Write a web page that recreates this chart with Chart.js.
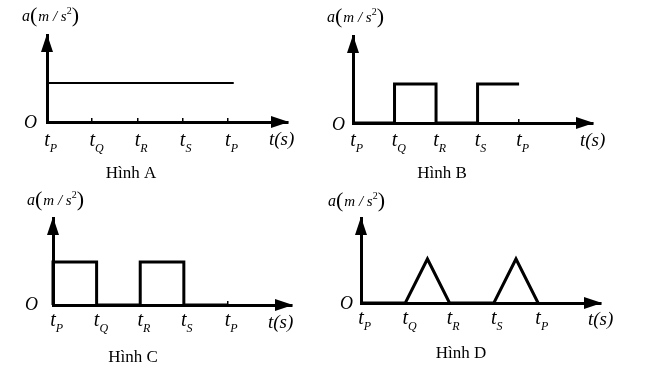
<!DOCTYPE html>
<html>
<head>
<meta charset="utf-8">
<script src="https://cdn.jsdelivr.net/npm/chart.js@4.4.1/dist/chart.umd.min.js"></script>
<style>
  html, body { margin: 0; padding: 0; background: #fff; }
  #wrap { position: relative; width: 647px; height: 379px; }
  #wrap canvas { position: absolute; left: 0; top: 0; }
</style>
</head>
<body>
<div id="wrap">
  <canvas id="chartA" width="647" height="379"></canvas>
  <canvas id="chartB" width="647" height="379"></canvas>
  <canvas id="chartC" width="647" height="379"></canvas>
  <canvas id="chartD" width="647" height="379"></canvas>
</div>
<script>
// tick positions on the time axis and their subscripts
const tickTimes = [0, 1, 2, 3, 4];
const tickNames = ['P', 'Q', 'R', 'S', 'P'];

// Hình A: constant acceleration
const timesA = [0, 4.13];
const accA = [1, 1];
// Hình B: pulses Q-R and from S on
const timesB = [0, 1, 1, 2, 2, 3, 3, 4];
const accB = [0, 0, 1, 1, 0, 0, 1, 1];
// Hình C: pulses P-Q and R-S
const timesC = [0, 0, 1, 1, 2, 2, 3, 3, 4];
const accC = [0, 1, 1, 0, 0, 1, 1, 0, 0];
// Hình D: triangles Q-R and S-P
const timesD = [0, 1, 1.5, 2, 3, 3.5, 4];
const accD = [0, 0, 1, 0, 0, 1, 0];

const serif = '"Liberation Serif", "DejaVu Serif", serif';

// arrows, tick labels and texts around each small graph
const annotate = {
  id: 'annotate',
  afterDraw(chart, args, o) {
    const { ctx, chartArea: ca, scales: { x } } = chart;
    ctx.save();
    ctx.fillStyle = '#000';

    // arrow heads
    ctx.beginPath();
    ctx.moveTo(ca.left, ca.top - 1);
    ctx.lineTo(ca.left - 6, ca.top + 17);
    ctx.lineTo(ca.left + 6, ca.top + 17);
    ctx.closePath();
    ctx.fill();
    ctx.beginPath();
    ctx.moveTo(ca.right + 1, ca.bottom);
    ctx.lineTo(ca.right - 17, ca.bottom - 6);
    ctx.lineTo(ca.right - 17, ca.bottom + 6);
    ctx.closePath();
    ctx.fill();

    // t_P, t_Q ...
    ctx.textBaseline = 'alphabetic';
    tickTimes.forEach((v, i) => {
      const px = x.getPixelForValue(v);
      ctx.font = 'italic 20px ' + serif;
      ctx.textAlign = 'center';
      ctx.fillText('t', px, ca.bottom + o.labelDrop);
      const w = ctx.measureText('t').width;
      ctx.font = 'italic 12px ' + serif;
      ctx.textAlign = 'left';
      ctx.fillText(tickNames[i], px + w / 2, ca.bottom + o.labelDrop + 6);
    });

    // origin
    ctx.font = 'italic 18px ' + serif;
    ctx.textAlign = 'right';
    ctx.fillText('O', o.origin[0], o.origin[1]);

    // time axis name
    ctx.font = 'italic 19px ' + serif;
    ctx.textAlign = 'left';
    ctx.fillText('t(s)', o.timeName[0], o.timeName[1]);

    // a(m/s²)
    let cx = o.unit[0];
    const by = o.unit[1];
    const parts = [
      ['a', 'italic 16px ', 0],
      ['(', '22px ', 1],
      ['m / s', 'italic 15px ', 0],
      ['2', '10px ', -7],
      [')', '22px ', 1]
    ];
    parts.forEach(([s, f, dy]) => {
      ctx.font = f + serif;
      ctx.fillText(s, cx, by + dy);
      cx += ctx.measureText(s).width + (s === '(' ? 1 : 0);
    });

    // caption
    ctx.font = '17px ' + serif;
    ctx.textAlign = 'center';
    ctx.fillText(o.title, o.titlePos[0], o.titlePos[1]);
    ctx.restore();
  }
};

function drawPanel(id, times, acc, box, xMax, yMax, lineWidth, showTicks, texts) {
  new Chart(document.getElementById(id).getContext('2d'), {
    type: 'line',
    data: {
      datasets: [{
        data: times.map((t, i) => ({ x: t, y: acc[i] })),
        borderColor: '#000',
        borderWidth: lineWidth,
        borderJoinStyle: 'miter',
        pointRadius: 0,
        tension: 0,
        fill: false,
        clip: false
      }]
    },
    options: {
      responsive: false,
      animation: false,
      devicePixelRatio: 1,
      layout: { padding: { left: box[0], top: box[1], right: 647 - box[2], bottom: 379 - box[3] } },
      plugins: { legend: { display: false }, tooltip: { enabled: false }, annotate: texts },
      scales: {
        x: {
          type: 'linear', min: 0, max: xMax,
          afterFit(s) { s.height = 0; },
          afterBuildTicks(s) { s.ticks = tickTimes.map(v => ({ value: v })); },
          ticks: { display: false },
          grid: { display: showTicks, drawOnChartArea: false, tickLength: -4, color: '#000', lineWidth: 1.5 },
          border: { display: true, color: '#000', width: 3 }
        },
        y: {
          type: 'linear', min: 0, max: yMax,
          afterFit(s) { s.width = 0; },
          ticks: { display: false },
          grid: { display: false },
          border: { display: true, color: '#000', width: 3 }
        }
      }
    },
    plugins: [annotate]
  });
}

drawPanel('chartA', timesA, accA, [47, 35, 288, 122], 5.33, 2.23, 2, true,
  { labelDrop: 24, origin: [37, 128], timeName: [269, 145], unit: [22, 21], title: 'Hình A', titlePos: [131, 178] });
drawPanel('chartB', timesB, accB, [353, 36, 593, 123], 5.78, 2.23, 3, true,
  { labelDrop: 23, origin: [345, 130], timeName: [580, 146], unit: [327, 22], title: 'Hình B', titlePos: [442, 178] });
drawPanel('chartC', timesC, accC, [53, 218, 292, 305], 5.48, 2.02, 3, true,
  { labelDrop: 21, origin: [38, 310], timeName: [268, 328], unit: [27, 205], title: 'Hình C', titlePos: [133, 362] });
drawPanel('chartD', timesD, accD, [361, 218, 601, 303], 5.42, 1.93, 3, false,
  { labelDrop: 21, origin: [353, 309], timeName: [588, 325], unit: [328, 206], title: 'Hình D', titlePos: [461, 358] });
</script>
</body>
</html>
